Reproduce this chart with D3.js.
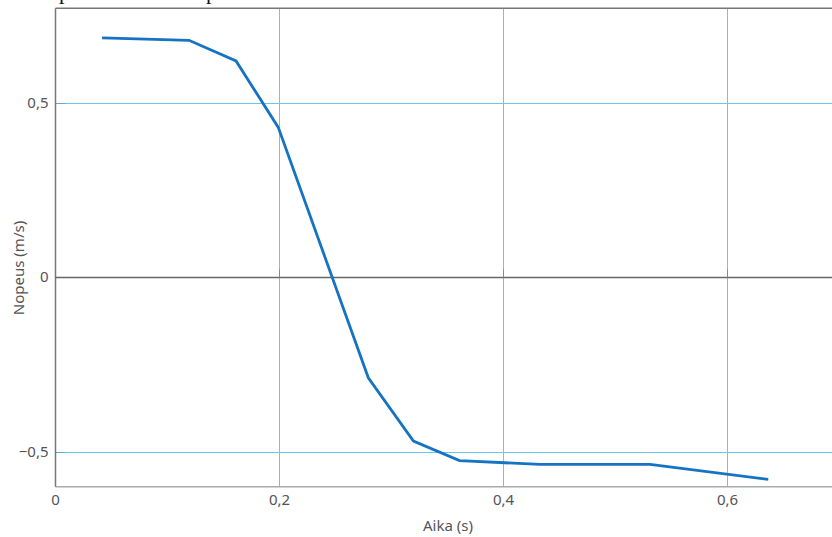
<!DOCTYPE html>
<html><head><meta charset="utf-8">
<script src="https://cdn.jsdelivr.net/npm/d3@7"></script>
<style>
html,body{margin:0;padding:0;background:#fff;overflow:hidden}
svg{display:block}
</style></head>
<body>
<script>
// Data
const times = [0.0415, 0.1192, 0.1612, 0.1989, 0.2793, 0.3196, 0.3607, 0.4326, 0.5308, 0.6364];
const speeds = [0.688, 0.681, 0.622, 0.431, -0.288, -0.470, -0.526, -0.537, -0.537, -0.580];
const xTicks = [0, 0.2, 0.4, 0.6];
const xTickLabels = ["0", "0,2", "0,4", "0,6"];
const yTicks = [-0.5, 0, 0.5];
const yTickLabels = ["\u22120,5", "0", "0,5"];
const xTitle = "Aika (s)";
const yTitle = "Nopeus (m/s)";

const W = 832, H = 537;
const svg = d3.select("body").append("svg").attr("width", W).attr("height", H);

const x = d3.scaleLinear().domain([0, 0.7]).range([55.5, 55.5 + 1120 * 0.7]);
const y = d3.scaleLinear().domain([-0.601, 0.773]).range([486.7, 8.3]);
const cx = v => Math.round(x(v)) - 0.5;
const cy = v => Math.round(y(v)) + 0.5;

const font = "'Noto Sans', 'Open Sans', sans-serif";
const gridCol = "#66c8f0";

// cut-off title descenders at the top edge
svg.append("text").attr("x", 59).attr("y", -1).attr("font-family", "'Liberation Serif', serif")
  .attr("font-size", 22).attr("fill", "#111").text("p");
svg.append("text").attr("x", 206).attr("y", -1).attr("font-family", "'Liberation Serif', serif")
  .attr("font-size", 22).attr("fill", "#111").text("p");

// grid lines
svg.append("g").selectAll("line").data(xTicks.filter(d => d !== 0)).join("line")
  .attr("x1", d => cx(d)).attr("x2", d => cx(d))
  .attr("y1", y(0.773)).attr("y2", y(-0.601))
  .attr("stroke", gridCol).attr("stroke-width", 1);
svg.append("g").selectAll("line").data(yTicks.filter(d => d !== 0)).join("line")
  .attr("x1", x(0)).attr("x2", W)
  .attr("y1", d => cy(d)).attr("y2", d => cy(d))
  .attr("stroke", gridCol).attr("stroke-width", 1);

// small ticks on left axis at grid lines
svg.append("g").selectAll("line").data(yTicks.filter(d => d !== 0)).join("line")
  .attr("x1", x(0)).attr("x2", x(0) + 10)
  .attr("y1", d => cy(d)).attr("y2", d => cy(d))
  .attr("stroke", "#6aa9c6").attr("stroke-width", 1);

// frame: top, bottom, left
svg.append("line").attr("x1", x(0)).attr("x2", W).attr("y1", y(0.773)).attr("y2", y(0.773))
  .attr("stroke", "#777").attr("stroke-width", 1.5);
svg.append("line").attr("x1", x(0)).attr("x2", W).attr("y1", y(-0.601)).attr("y2", y(-0.601))
  .attr("stroke", "#aaa").attr("stroke-width", 1.5);
svg.append("line").attr("x1", x(0)).attr("x2", x(0)).attr("y1", y(0.773)).attr("y2", y(-0.601))
  .attr("stroke", "#777").attr("stroke-width", 1.5);

// zero line with small ticks
svg.append("line").attr("x1", x(0)).attr("x2", W).attr("y1", y(0)).attr("y2", y(0))
  .attr("stroke", "#666").attr("stroke-width", 1.6);
svg.append("g").selectAll("line").data(xTicks.filter(d => d !== 0)).join("line")
  .attr("x1", d => cx(d)).attr("x2", d => cx(d))
  .attr("y1", y(0) - 8).attr("y2", y(0))
  .attr("stroke", "#888").attr("stroke-width", 1);

// data line
const line = d3.line().x((d, i) => x(times[i])).y(d => y(d));
svg.append("path").datum(speeds).attr("d", line)
  .attr("fill", "none").attr("stroke", "#1673c2").attr("stroke-width", 2.8)
  .attr("stroke-linejoin", "miter");

// tick labels
svg.append("g").selectAll("text").data(xTicks).join("text")
  .attr("x", d => x(d)).attr("y", 505)
  .attr("text-anchor", "middle").attr("font-family", font).attr("font-size", 15)
  .attr("fill", "#555").text((d, i) => xTickLabels[i]);
svg.append("g").selectAll("text").data(yTicks).join("text")
  .attr("x", 48.5).attr("y", d => y(d) + 5)
  .attr("text-anchor", "end").attr("font-family", font).attr("font-size", 15)
  .attr("fill", "#555").text((d, i) => yTickLabels[i]);

// axis titles
svg.append("text").attr("x", 448).attr("y", 531).attr("text-anchor", "middle")
  .attr("font-family", font).attr("font-size", 15).attr("fill", "#555").text(xTitle);
svg.append("text").attr("transform", "translate(24,268) rotate(-90)").attr("text-anchor", "middle")
  .attr("font-family", font).attr("font-size", 15).attr("fill", "#555").text(yTitle);
</script>
</body></html>
